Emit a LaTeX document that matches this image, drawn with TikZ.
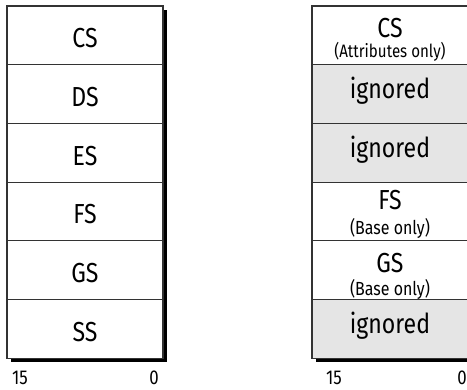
\documentclass[tikz,border=0pt]{standalone}
\usepackage{fontspec}
\setmainfont{Fira Sans}[FakeStretch=0.84]
\begin{document}
\begin{tikzpicture}[x=1pt,y=-1pt,
  cell/.style={draw=black!80, line width=1.1pt, minimum width=156pt,
    minimum height=58.7pt, inner sep=0pt, fill=white},
  grayed/.style={cell, fill=black!10},
  small/.style={inner sep=0pt, font=\fontsize{19}{19}\selectfont},
  big/.style={inner sep=0pt, font=\fontsize{27.5}{27.5}\selectfont},
  bit/.style={inner sep=0pt, font=\fontsize{20}{20}\selectfont}]
\useasboundingbox (0,0) rectangle (467,390);
% drop shadows
\fill[black] (11,10) rectangle (167,362);
\fill[black] (316,10) rectangle (472,362);
% 16-bit segment registers
\foreach \t [count=\i] in {CS,DS,ES,FS,GS,SS}
  \node[cell, label={[big,yshift=-3pt]center:\t}] (l\i)
    at (85,{35.35+58.7*(\i-1)}) {};
% the same registers, as seen in 64-bit mode
\node[cell] (r1) at (390,35.35) {};
\node[grayed, label={[big,yshift=3pt]center:ignored}] (r2) at (390,94.05) {};
\node[grayed, label={[big,yshift=3pt]center:ignored}] (r3) at (390,152.75) {};
\node[cell] (r4) at (390,211.45) {};
\node[cell] (r5) at (390,270.15) {};
\node[grayed, label={[big,yshift=3pt]center:ignored}] (r6) at (390,328.85) {};
\node[big] (r1a) at (390,28) {CS};
\node[small, font=\fontsize{18}{18}\selectfont] (r1b) at (390,52) {(Attributes only)};
\node[big] (r4a) at (390,200) {FS};
\node[small] (r4b) at (390,228) {(Base only)};
\node[big] (r5a) at (390,263) {GS};
\node[small] (r5b) at (390,289) {(Base only)};
% bit numbers
\node[bit] (lh) at (20,378) {15};
\node[bit] (ll) at (154,378) {0};
\node[bit] (rh) at (334,378) {15};
\node[bit] (rl) at (462,378) {0};
\end{tikzpicture}
\end{document}
